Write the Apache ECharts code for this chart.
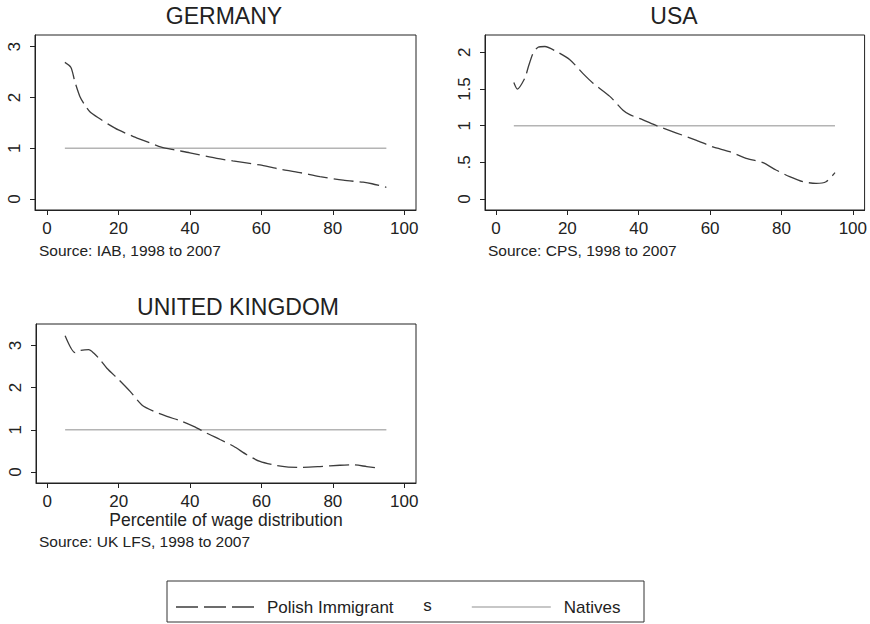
<!DOCTYPE html>
<html>
<head>
<meta charset="utf-8">
<script src="https://cdn.jsdelivr.net/npm/echarts@6/dist/echarts.min.js"></script>
<style>
html,body{margin:0;padding:0;background:#fff;}
#chart{width:870px;height:624px;}
</style>
</head>
<body>
<div id="chart"></div>
<script>
// ---- data ----
const deX = [5, 6.7, 7.8, 9.2, 10.5, 12, 14.8, 17, 20, 24.2, 27.9, 32, 35.8, 40, 47.5, 52, 59.6, 64.3, 70.8, 76.4, 82.9, 88.5, 91, 95];
const deY = [2.69, 2.59, 2.31, 2.02, 1.86, 1.72, 1.58, 1.48, 1.36, 1.23, 1.13, 1.02, 0.965, 0.91, 0.80, 0.75, 0.67, 0.60, 0.52, 0.44, 0.37, 0.33, 0.30, 0.23];

const usX = [5, 6, 8.1, 9.05, 10.4, 11.8, 13.7, 17, 20.7, 24.4, 27.2, 31.9, 35.6, 37.5, 41.2, 45, 50.6, 56.2, 60.8, 65.5, 70.1, 74.8, 78.5, 82.3, 86, 89.7, 92.5, 95];
const usY = [1.59, 1.50, 1.65, 1.80, 1.99, 2.07, 2.08, 2.01, 1.90, 1.71, 1.58, 1.40, 1.21, 1.15, 1.08, 1.00, 0.90, 0.80, 0.71, 0.645, 0.555, 0.495, 0.395, 0.305, 0.236, 0.214, 0.236, 0.36];

const ukX = [5, 7.8, 9.2, 11.6, 13, 14.8, 16.7, 20, 23.2, 26.5, 29.8, 33.5, 37.7, 41, 44.7, 48.4, 52.2, 55.9, 59.6, 63.3, 67, 70.8, 76.4, 82, 85.7, 89.5, 93.2];
const ukY = [3.23, 2.83, 2.88, 2.90, 2.82, 2.66, 2.46, 2.19, 1.91, 1.59, 1.44, 1.32, 1.20, 1.08, 0.92, 0.77, 0.61, 0.41, 0.25, 0.17, 0.12, 0.11, 0.13, 0.16, 0.17, 0.13, 0.09];

const nativesX = [5, 95];
const nativesY = [1, 1];

const xTicks = [0, 20, 40, 60, 80, 100];
const deYTicks = [0, 1, 2, 3];
const usYTicks = [0, 0.5, 1, 1.5, 2];
const usYTickLabels = ['0', '.5', '1', '1.5', '2'];
const ukYTicks = [0, 1, 2, 3];

const panelTitles = ['GERMANY', 'USA', 'UNITED KINGDOM'];
const sourceNotes = ['Source: IAB, 1998 to 2007', 'Source: CPS, 1998 to 2007', 'Source: UK LFS, 1998 to 2007'];
const xAxisName = 'Percentile of wage distribution';
const seriesNames = ['Polish Immigrant', 'Natives'];

// ---- build ----
const FONT = "'Liberation Sans', Arial, Helvetica, sans-serif";
const INK = '#222';
const DASH_COLOR = '#3c3c3c';
const NATIVE_COLOR = '#b4b4b4';
const zip = (xs, ys) => xs.map((x, i) => [x, ys[i]]);

const grids = [
  {left: 35, top: 35, width: 381, height: 175},
  {left: 485, top: 35, width: 380, height: 175},
  {left: 36, top: 324, width: 380, height: 159}
].map(g => Object.assign(g, {show: true, borderColor: INK, borderWidth: 1, backgroundColor: 'transparent', containLabel: false}));

const xRanges = [[-3.36, 103.3], [-3.08, 103.3], [-3.16, 103.3]];
const yRanges = [[-0.217, 3.23], [-0.15, 2.237], [-0.26, 3.507]];
const yTickSets = [deYTicks, usYTicks, ukYTicks];

function xAxisFor(i) {
  const ax = {
    type: 'value', gridIndex: i, min: xRanges[i][0], max: xRanges[i][1],
    axisLine: {show: true, onZero: false, lineStyle: {color: INK, width: 1}},
    axisTick: {show: true, length: 5, customValues: xTicks, lineStyle: {color: INK, width: 1}},
    axisLabel: {customValues: xTicks, margin: 9.5, color: INK, fontSize: 17, fontFamily: FONT},
    splitLine: {show: false}
  };
  if (i === 2) {
    ax.name = xAxisName;
    ax.nameLocation = 'middle';
    ax.nameGap = 28;
    ax.nameTextStyle = {color: INK, fontSize: 17.5, fontFamily: FONT};
  }
  return ax;
}
function yAxisFor(i) {
  const ticks = yTickSets[i];
  return {
    type: 'value', gridIndex: i, min: yRanges[i][0], max: yRanges[i][1],
    axisLine: {show: true, onZero: false, lineStyle: {color: INK, width: 1}},
    axisTick: {show: true, length: 5, customValues: ticks, lineStyle: {color: INK, width: 1}},
    axisLabel: {
      customValues: ticks, rotate: 90, margin: 12, color: INK, fontSize: 17, fontFamily: FONT,
      formatter: v => i === 1 ? usYTickLabels[usYTicks.indexOf(v)] : String(v)
    },
    splitLine: {show: false}
  };
}

const immigrantData = [zip(deX, deY), zip(usX, usY), zip(ukX, ukY)];
const series = [];
for (let i = 0; i < 3; i++) {
  series.push({
    name: seriesNames[1], type: 'line', xAxisIndex: i, yAxisIndex: i,
    data: zip(nativesX, nativesY), symbol: 'none', silent: true,
    itemStyle: {color: NATIVE_COLOR},
    lineStyle: {color: NATIVE_COLOR, width: 1.6, type: 'solid'}, z: 2
  });
  series.push({
    name: seriesNames[0], type: 'line', xAxisIndex: i, yAxisIndex: i,
    data: immigrantData[i], symbol: 'none', smooth: 0.25, silent: true,
    itemStyle: {color: DASH_COLOR},
    lineStyle: {color: DASH_COLOR, width: 1.3, type: [20, 6]}, z: 3
  });
}

const titlePos = [[224, 16], [674, 16], [238, 307]];
const sourcePos = [[39, 250], [488, 250], [39, 541.5]];
const graphic = [];
panelTitles.forEach((t, i) => graphic.push({
  type: 'text', x: titlePos[i][0], y: titlePos[i][1],
  style: {text: t, fill: INK, font: '23px ' + FONT, textAlign: 'center', textVerticalAlign: 'middle'}
}));
sourceNotes.forEach((t, i) => graphic.push({
  type: 'text', x: sourcePos[i][0], y: sourcePos[i][1],
  style: {text: t, fill: INK, font: '15.5px ' + FONT, textAlign: 'left', textVerticalAlign: 'middle'}
}));
// legend frame and the stray "s"
graphic.push({type: 'rect', shape: {x: 167, y: 581, width: 477, height: 41}, style: {fill: 'none', stroke: '#333', lineWidth: 1}});
graphic.push({type: 'text', x: 427.5, y: 605.5, style: {text: 's', fill: INK, font: '17px ' + FONT, textAlign: 'center', textVerticalAlign: 'middle'}});

const legendText = {color: INK, fontSize: 17, fontFamily: FONT, padding: [0, 0, 0, 8]};
const dashIcon = 'path://M0,0H22V1.4H0Z M28,0H50V1.4H28Z M56,0H78V1.4H56Z';
const option = {
  animation: false,
  backgroundColor: '#fff',
  grid: grids,
  xAxis: [0, 1, 2].map(xAxisFor),
  yAxis: [0, 1, 2].map(yAxisFor),
  series: series,
  legend: [
    {data: [{name: seriesNames[0], icon: dashIcon}], left: 176, top: 598.5, padding: 0,
      itemWidth: 78, itemHeight: 14, symbolKeepAspect: true, selectedMode: false,
      textStyle: legendText, itemStyle: {color: DASH_COLOR, opacity: 1, borderWidth: 0}},
    {data: [seriesNames[1]], left: 471, top: 598.5, padding: 0,
      itemWidth: 79, itemHeight: 14, selectedMode: false,
      textStyle: legendText, itemStyle: {opacity: 0},
      lineStyle: {color: NATIVE_COLOR, width: 1.6, type: 'solid'}}
  ],
  graphic: graphic
};

const chart = echarts.init(document.getElementById('chart'), null, {renderer: 'svg'});
chart.setOption(option);
</script>
</body>
</html>
